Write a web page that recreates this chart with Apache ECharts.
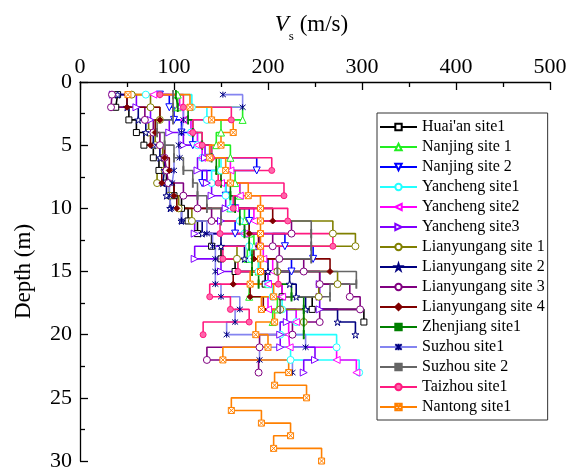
<!DOCTYPE html>
<html>
<head>
<meta charset="utf-8">
<script src="https://cdn.jsdelivr.net/npm/echarts@6/dist/echarts.min.js"></script>
<style>
  html, body { margin: 0; padding: 0; background: #fff; }
  #chart { width: 568px; height: 468px; }
</style>
</head>
<body>
<div id="chart"></div>
<script>
// Layer depths (m) at which each velocity step starts
const layerDepths = [1, 2, 3, 4, 5, 6, 7, 8, 9, 10, 11, 12, 13, 14, 15,
                     16, 17, 18, 19, 20, 21, 22, 23, 24, 25, 26, 27, 28, 29, 30];

const siteNames = [
  "Huai'an site1", 'Nanjing site 1', 'Nanjing site 2', 'Yancheng site1',
  'Yancheng site2', 'Yancheng site3', 'Lianyungang site 1', 'Lianyungang site 2',
  'Lianyungang site 3', 'Lianyungang site 4', 'Zhenjiang site1', 'Suzhou site1',
  'Suzhou site 2', 'Taizhou site1', 'Nantong site1'
];

// Shear-wave velocity (m/s) of each layer, from the top down
const huaian      = [40, 38, 52, 60, 68, 78, 84, 92, 100, 108, 115, 125, 140, 150, 165, 197, 215, 247, 302];
const nanjing1    = [104, 104, 173, 150, 145, 160, 148, 165, 170, 160, 175, 180, 185, 178, 190, 200, 180, 210, 205];
const nanjing2    = [85, 95, 100, 108, 120, 138, 188, 130, 155, 165, 180, 165, 218, 248, 225, 200];
const yancheng1   = [70, 119, 135, 118, 125, 130, 150, 140, 155, 160, 170, 175, 180, 182, 190, 200, 205, 215, 230, 213, 273, 224, 297];
const yancheng2   = [78, 106, 110, 118, 125, 130, 160, 150, 170, 165, 185, 175, 190, 195, 205, 200, 215, 200, 230, 222, 223, 273, 294];
const yancheng3   = [35, 60, 75, 95, 110, 133, 125, 135, 140, 155, 150, 122, 191, 122, 150, 255, 255, 255, 220, 213, 213, 250, 238];
const lianyungang1 = [55, 75, 85, 73, 80, 88, 90, 82, 95, 105, 119, 269, 293, 167, 210, 274, 254, 213, 238];
const lianyungang2 = [40, 50, 62, 70, 78, 85, 90, 88, 92, 96, 108, 130, 150, 175, 200, 223, 230, 240, 274, 293];
const lianyungang3 = [34, 33, 69, 78, 85, 90, 92, 94, 110, 125, 140, 225, 205, 212, 238, 255, 287, 298, 255, 226, 191, 135, 190];
const lianyungang4 = [50, 50, 85, 80, 75, 90, 95, 87, 100, 103, 205, 180, 190, 185, 266, 163, 181, 195];
const zhenjiang   = [102, 104, 115, 120, 130, 140, 145, 150, 160, 165, 170, 175, 180, 183, 183, 190, 225, 238, 238, 238];
const suzhou1     = [152, 173, 110, 108, 105, 106, 100, 98, 95, 97, 108, 135, 141, 144, 144, 144, 150, 170, 165, 156, 240, 191, 226];
const suzhou2     = [99, 99, 99, 82, 90, 100, 110, 120, 125, 135, 150, 246, 246, 246, 210, 294, 266, 213];
const taizhou     = [85, 110, 161, 120, 130, 140, 204, 147, 217, 163, 221, 149, 269, 152, 168, 211, 138, 160, 180, 131];
const nantong     = [51, 117, 140, 163, 150, 138, 155, 160, 179, 192, 192, 192, 192, 192, 192, 181, 206, 193, 207, 187,
                     200, 152, 222, 207, 241, 161, 193, 224, 206, 257];

const siteVelocities = [huaian, nanjing1, nanjing2, yancheng1, yancheng2, yancheng3,
  lianyungang1, lianyungang2, lianyungang3, lianyungang4, zhenjiang, suzhou1,
  suzhou2, taizhou, nantong];

// Axis ticks
const velocityTicks = { min: 0, max: 500, step: 100 };
const depthTicks = { min: 0, max: 30, step: 5 };

const SERIF = '"Liberation Serif", "Times New Roman", serif';
const STAR = 'path://M5 0L6.18 3.62L10 3.62L6.91 5.85L8.09 9.47L5 7.24L1.91 9.47L3.09 5.85L0 3.62L3.82 3.62Z';
const ASTERISK = 'path://M0 0L10 10M10 0L0 10M5 -1L5 11';
const BOXCROSS = 'path://M0 0L10 0L10 10L0 10ZM0 0L10 10M10 0L0 10';

// Line colour, marker shape and marker colours for each site
const siteStyles = [
  { line: '#000000', symbol: 'rect',     fill: '#ffffff', edge: '#000000', size: 6 },
  { line: '#22ee22', symbol: 'triangle', fill: '#ffffff', edge: '#22ee22', size: 7 },
  { line: '#0000ff', symbol: 'triangle', fill: '#ffffff', edge: '#0000ff', size: 7, rotate: 180 },
  { line: '#22ffff', symbol: 'circle',   fill: '#ffffff', edge: '#22ffff', size: 7 },
  { line: '#ff00ff', symbol: 'triangle', fill: '#ffffff', edge: '#ff00ff', size: 7, rotate: 90 },
  { line: '#8000ff', symbol: 'triangle', fill: '#ffffff', edge: '#8000ff', size: 7, rotate: -90 },
  { line: '#808000', symbol: 'circle',   fill: '#ffffff', edge: '#808000', size: 7 },
  { line: '#000080', symbol: STAR,       fill: '#ffffff', edge: '#000080', size: 7 },
  { line: '#800080', symbol: 'circle',   fill: '#ffffff', edge: '#800080', size: 7 },
  { line: '#800000', symbol: 'diamond',  fill: '#800000', edge: '#800000', size: 6 },
  { line: '#008000', symbol: 'rect',     fill: '#008000', edge: '#008000', size: [1.4, 7] },
  { line: '#8484f0', symbol: ASTERISK,   fill: '#000080', edge: '#000080', size: 6 },
  { line: '#666666', symbol: 'rect',     fill: '#666666', edge: '#666666', size: [1.4, 7] },
  { line: '#ff1a80', symbol: 'circle',   fill: '#ff66aa', edge: '#ff1a80', size: 6 },
  { line: '#ff8000', symbol: BOXCROSS,   fill: '#ffffff', edge: '#ff8000', size: 6 }
];

const series = siteNames.map((name, i) => {
  const st = siteStyles[i];
  return {
    name: name,
    type: 'line',
    step: 'end',
    data: siteVelocities[i].map((v, k) => [v, layerDepths[k]]),
    symbol: st.symbol,
    symbolSize: st.size,
    symbolRotate: st.rotate || 0,
    showSymbol: true,
    lineStyle: { color: st.line, width: 1.6 },
    itemStyle: { color: st.fill, borderColor: st.edge, borderWidth: 1 },
    emphasis: { disabled: true }
  };
});

const axisBlack = { color: '#000', width: 1.3 };

const chart = echarts.init(document.getElementById('chart'), null, { renderer: 'canvas' });
chart.setOption({
  animation: false,
  backgroundColor: '#fff',
  grid: { left: 80, right: 18, top: 82, bottom: 7, containLabel: false, outerBoundsMode: 'none' },
  legend: {
    orient: 'vertical',
    left: 377,
    top: 113,
    padding: [4, 3, 3, 2],
    itemGap: 0,
    itemWidth: 37,
    itemHeight: 8,
    borderColor: '#333',
    borderWidth: 1,
    selectedMode: false,
    data: siteNames,
    textStyle: { fontFamily: SERIF, fontSize: 16, color: '#000', lineHeight: 20 }
  },
  xAxis: {
    type: 'value',
    position: 'top',
    min: velocityTicks.min,
    max: velocityTicks.max,
    interval: velocityTicks.step,
    name: '{v|V}{s|s}{u| (m/s)}{g|\u200b}',
    nameLocation: 'middle',
    nameGap: 39,
    nameTextStyle: {
      fontFamily: SERIF, fontSize: 23, color: '#000',
      padding: [0, 7, 0, 0],
      rich: {
        v: { fontFamily: SERIF, fontSize: 23, fontStyle: 'italic', lineHeight: 23, verticalAlign: 'top', color: '#000' },
        s: { fontFamily: SERIF, fontSize: 13, lineHeight: 14, verticalAlign: 'bottom', color: '#000' },
        u: { fontFamily: SERIF, fontSize: 23, lineHeight: 23, verticalAlign: 'top', color: '#000' },
        g: { fontSize: 10, lineHeight: 30 }
      }
    },
    axisLine: { show: true, lineStyle: axisBlack },
    axisTick: { show: true, inside: true, length: 8, lineStyle: axisBlack },
    minorTick: { show: true, splitNumber: 2, length: 5, lineStyle: axisBlack },
    axisLabel: { fontFamily: SERIF, fontSize: 22, color: '#000', margin: 4, showMinLabel: true, showMaxLabel: true },
    splitLine: { show: false }
  },
  yAxis: {
    type: 'value',
    inverse: true,
    min: depthTicks.min,
    max: depthTicks.max,
    interval: depthTicks.step,
    name: 'Depth (m)',
    nameLocation: 'middle',
    nameGap: 45,
    nameTextStyle: { fontFamily: SERIF, fontSize: 23, color: '#000' },
    axisLine: { show: true, lineStyle: axisBlack },
    axisTick: { show: true, inside: true, length: 8, lineStyle: axisBlack },
    minorTick: { show: true, splitNumber: 2, length: 5, lineStyle: axisBlack },
    axisLabel: { fontFamily: SERIF, fontSize: 22, color: '#000', margin: 8, showMinLabel: true, showMaxLabel: true },
    splitLine: { show: false }
  },
  series: series
});
</script>
</body>
</html>
